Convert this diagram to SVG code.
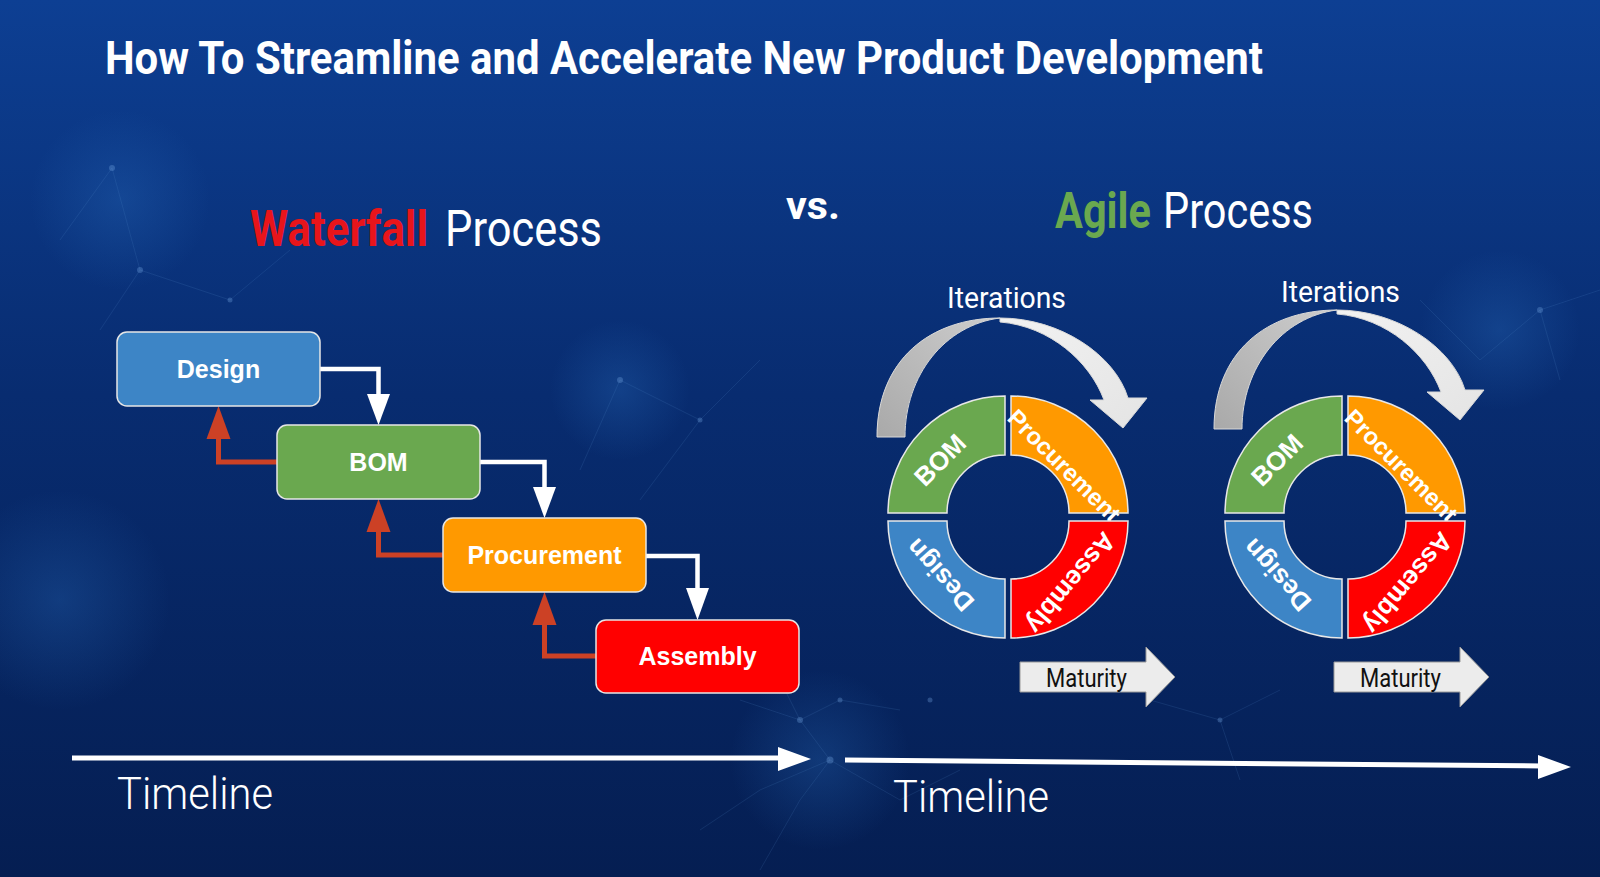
<svg xmlns="http://www.w3.org/2000/svg" width="1600" height="877" viewBox="0 0 1600 877">
<defs>
<linearGradient id="bg" x1="0" y1="0" x2="0" y2="1">
<stop offset="0" stop-color="#0d3f93"/>
<stop offset="0.45" stop-color="#082c70"/>
<stop offset="1" stop-color="#051e52"/>
</linearGradient>
<radialGradient id="glow" cx="0.5" cy="0.5" r="0.5">
<stop offset="0" stop-color="#2a6fc0" stop-opacity="0.3"/>
<stop offset="1" stop-color="#2a6fc0" stop-opacity="0"/>
</radialGradient>
<linearGradient id="arcBack" x1="0" y1="1" x2="1" y2="0">
<stop offset="0" stop-color="#a9a9a9"/>
<stop offset="1" stop-color="#cdcdcd"/>
</linearGradient>
<linearGradient id="arcFront" x1="0" y1="0" x2="1" y2="1">
<stop offset="0" stop-color="#f2f2f2"/>
<stop offset="1" stop-color="#e4e4e4"/>
</linearGradient>
<style>
.box{stroke:#e6e6e6;stroke-width:1.5}
.btxt{font-family:"Liberation Sans",Arial,sans-serif;font-weight:bold;font-size:25px;fill:#ffffff;text-anchor:middle}
.rtxt{font-family:"Liberation Sans",Arial,sans-serif;font-weight:bold;font-size:26px;fill:#ffffff;text-anchor:middle}
.ptxt{font-size:24px}
.seg{stroke:#e8e8e8;stroke-width:1.5}
.fw{fill:none;stroke:#ffffff;stroke-width:4.5}
.bw{fill:none;stroke:#cc4125;stroke-width:5}
.headw{fill:#ffffff}
.headb{fill:#cc4125}
.cond{font-family:Roboto,"Liberation Sans",sans-serif;fill:#ffffff}
.mat{fill:#ececec;stroke:#9a9a9a;stroke-width:1}
.mtxt{font-family:Roboto,"Liberation Sans",sans-serif;font-size:25px;fill:#111111}
.arcb{fill:url(#arcBack);stroke:#d8d8d8;stroke-width:1}
.arcf{fill:url(#arcFront);stroke:#d8d8d8;stroke-width:1}
.net{stroke:#5a8fd0;stroke-opacity:0.16;stroke-width:1;fill:none}
.dot{fill:#7fb0ea;fill-opacity:0.3}
</style>
</defs>

<rect width="1600" height="877" fill="url(#bg)"/>
<g id="background-network">
<circle cx="120" cy="200" r="90" fill="url(#glow)"/>
<circle cx="620" cy="390" r="70" fill="url(#glow)"/>
<circle cx="820" cy="760" r="90" fill="url(#glow)"/>
<circle cx="1500" cy="330" r="80" fill="url(#glow)"/>
<circle cx="60" cy="600" r="110" fill="url(#glow)"/>
<path class="net" d="M112,168 L140,270 L230,300 M112,168 L60,240 M140,270 L100,330 M230,300 L290,250"/>
<path class="net" d="M620,380 L700,420 L760,360 M620,380 L580,470 M700,420 L640,500"/>
<path class="net" d="M740,700 L800,720 L830,760 L800,800 L760,870 M800,720 L840,700 L900,710 M830,760 L900,800 L960,770 M830,760 L760,790 L700,830 M800,720 L780,680"/>
<path class="net" d="M1540,310 L1600,290 M1540,310 L1480,360 L1420,300 M1540,310 L1560,380"/>
<path class="net" d="M1150,700 L1220,720 L1280,690 M1220,720 L1240,780"/>
<circle class="dot" cx="112" cy="168" r="3"/>
<circle class="dot" cx="140" cy="270" r="3"/>
<circle class="dot" cx="230" cy="300" r="2.5"/>
<circle class="dot" cx="620" cy="380" r="3"/>
<circle class="dot" cx="700" cy="420" r="2.5"/>
<circle class="dot" cx="800" cy="720" r="3"/>
<circle class="dot" cx="830" cy="760" r="3.5"/>
<circle class="dot" cx="840" cy="700" r="2.5"/>
<circle class="dot" cx="1540" cy="310" r="3"/>
<circle class="dot" cx="1220" cy="720" r="2.5"/>
<circle class="dot" cx="930" cy="700" r="2.5"/>
</g>

<g id="titles">
<text class="cond" x="105" y="74" font-size="46" font-weight="bold" textLength="1158" lengthAdjust="spacingAndGlyphs">How To Streamline and Accelerate New Product Development</text>
<text class="cond" x="250" y="246" font-size="50" font-weight="bold" style="fill:#e8151b" textLength="178" lengthAdjust="spacingAndGlyphs">Waterfall</text>
<text class="cond" x="445" y="246" font-size="50" textLength="157" lengthAdjust="spacingAndGlyphs">Process</text>
<text class="cond" x="786" y="219" font-size="38" font-weight="bold" textLength="54" lengthAdjust="spacingAndGlyphs">vs.</text>
<text class="cond" x="1055" y="228" font-size="50" font-weight="bold" style="fill:#6aa84f" textLength="96" lengthAdjust="spacingAndGlyphs">Agile</text>
<text class="cond" x="1163" y="228" font-size="50" textLength="150" lengthAdjust="spacingAndGlyphs">Process</text>
</g>

<g id="connectors">
<path class="fw" d="M320,369 H378.5 V398"/>
<path class="headw" d="M367,394 L390,394 L378.5,425 Z"/>
<path class="fw" d="M480,462 H544.5 V490"/>
<path class="headw" d="M533,487 L556,487 L544.5,518 Z"/>
<path class="fw" d="M646,556 H697.5 V592"/>
<path class="headw" d="M686,588 L709,588 L697.5,620 Z"/>
<path class="bw" d="M277,462 H218.5 V435"/>
<path class="headb" d="M206.5,439 L230.5,439 L218.5,406 Z"/>
<path class="bw" d="M443,555 H378.5 V528"/>
<path class="headb" d="M366.5,532 L390.5,532 L378.5,499 Z"/>
<path class="bw" d="M596,656 H544.5 V621"/>
<path class="headb" d="M532.5,625 L556.5,625 L544.5,592 Z"/>
<path d="M72,758 L781,758" stroke="#ffffff" stroke-width="5" fill="none"/>
<path class="headw" d="M778,747 L811,759 L778,771 Z"/>
<path d="M845,760 L1542,766" stroke="#ffffff" stroke-width="5" fill="none"/>
<path class="headw" d="M1538,755 L1571,767 L1538,779 Z"/>
</g>

<g id="node-design">
<rect class="box" x="117" y="332" width="203" height="74" rx="10" fill="#3d85c6"/>
<text class="btxt" x="218.5" y="378">Design</text>
</g>
<g id="node-bom">
<rect class="box" x="277" y="425" width="203" height="74" rx="10" fill="#6aa84f"/>
<text class="btxt" x="378.5" y="471">BOM</text>
</g>
<g id="node-procurement">
<rect class="box" x="443" y="518" width="203" height="74" rx="10" fill="#ff9900"/>
<text class="btxt" x="544.5" y="564">Procurement</text>
</g>
<g id="node-assembly">
<rect class="box" x="596" y="620" width="203" height="73" rx="10" fill="#ff0000"/>
<text class="btxt" x="697.5" y="665">Assembly</text>
</g>

<text class="cond" x="117" y="809" font-size="44" font-weight="300" textLength="156" lengthAdjust="spacingAndGlyphs">Timeline</text>
<text class="cond" x="893" y="812" font-size="44" font-weight="300" textLength="156" lengthAdjust="spacingAndGlyphs">Timeline</text>

<g id="agile-cycle-1">
<g id="iterations-arrow-1">
<path class="arcb" d="M877,437 C877,360 930,318 1000,318 C945,325 905,375 905,437 Z"/>
<path class="arcf" d="M1000,318 C1060,318 1115,355 1128,398 L1147,398 L1123,428 L1090,400 L1104,400 C1090,362 1050,326 1000,322 Z"/>
</g>
<text class="cond" x="947" y="308" font-size="30" textLength="119" lengthAdjust="spacingAndGlyphs">Iterations</text>
<g id="ring1-bom"><path class="seg" fill="#6aa84f" d="M888,513 A117 117 0 0 1 1005,396 L1005,455 A58 58 0 0 0 947,513 Z"/>
<text class="rtxt" transform="translate(940,460) rotate(-45)" y="9">BOM</text></g>
<g id="ring1-procurement"><path class="seg" fill="#ff9900" d="M1011,396 A117 117 0 0 1 1128,513 L1069,513 A58 58 0 0 0 1011,455 Z"/>
<text class="rtxt ptxt" transform="translate(1064,466) rotate(45)" y="8">Procurement</text></g>
<g id="ring1-design"><path class="seg" fill="#3d85c6" d="M888,521 A117 117 0 0 0 1005,638 L1005,579 A58 58 0 0 1 947,521 Z"/>
<text class="rtxt" transform="translate(940,575) rotate(228)" y="9">Design</text></g>
<g id="ring1-assembly"><path class="seg" fill="#ff0000" d="M1011,638 A117 117 0 0 0 1128,521 L1069,521 A58 58 0 0 1 1011,579 Z"/>
<text class="rtxt" transform="translate(1071,583) rotate(130)" y="9">Assembly</text></g>
<g id="maturity-1">
<path class="mat" d="M1020,662 H1146 V647 L1175,677 L1146,707 V692 H1020 Z"/>
<text class="mtxt" x="1046" y="687" textLength="81" lengthAdjust="spacingAndGlyphs">Maturity</text>
</g>
</g>

<g id="agile-cycle-2">
<g id="iterations-arrow-2" transform="translate(337,-8)">
<path class="arcb" d="M877,437 C877,360 930,318 1000,318 C945,325 905,375 905,437 Z"/>
<path class="arcf" d="M1000,318 C1060,318 1115,355 1128,398 L1147,398 L1123,428 L1090,400 L1104,400 C1090,362 1050,326 1000,322 Z"/>
</g>
<text class="cond" x="1281" y="302" font-size="30" textLength="119" lengthAdjust="spacingAndGlyphs">Iterations</text>
<g transform="translate(337,0)">
<g id="ring2-bom"><path class="seg" fill="#6aa84f" d="M888,513 A117 117 0 0 1 1005,396 L1005,455 A58 58 0 0 0 947,513 Z"/>
<text class="rtxt" transform="translate(940,460) rotate(-45)" y="9">BOM</text></g>
<g id="ring2-procurement"><path class="seg" fill="#ff9900" d="M1011,396 A117 117 0 0 1 1128,513 L1069,513 A58 58 0 0 0 1011,455 Z"/>
<text class="rtxt ptxt" transform="translate(1064,466) rotate(45)" y="8">Procurement</text></g>
<g id="ring2-design"><path class="seg" fill="#3d85c6" d="M888,521 A117 117 0 0 0 1005,638 L1005,579 A58 58 0 0 1 947,521 Z"/>
<text class="rtxt" transform="translate(940,575) rotate(228)" y="9">Design</text></g>
<g id="ring2-assembly"><path class="seg" fill="#ff0000" d="M1011,638 A117 117 0 0 0 1128,521 L1069,521 A58 58 0 0 1 1011,579 Z"/>
<text class="rtxt" transform="translate(1071,583) rotate(130)" y="9">Assembly</text></g>
</g>
<g id="maturity-2" transform="translate(314,0)">
<path class="mat" d="M1020,662 H1146 V647 L1175,677 L1146,707 V692 H1020 Z"/>
<text class="mtxt" x="1046" y="687" textLength="81" lengthAdjust="spacingAndGlyphs">Maturity</text>
</g>
</g>
</svg>
